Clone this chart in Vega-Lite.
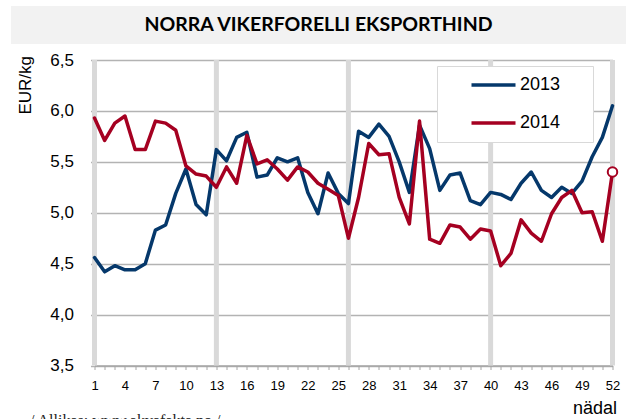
{
  "$schema": "https://vega.github.io/schema/vega-lite/v6.json",
  "padding": {"left": 11, "top": 6, "right": 0, "bottom": 0},
  "background": "white",
  "spacing": 7,
  "config": {"view": {"stroke": null}, "font": "Liberation Sans"},
  "title": {"text": "/ Allikas: www.akvafakta.no /", "orient": "bottom", "anchor": "start", "frame": "bounds", "font": "Liberation Serif", "fontSize": 16, "fontWeight": "normal", "color": "#222222", "offset": -5, "dx": 19, "baseline": "top"},
  "datasets": {
    "heading": [{"t": "NORRA VIKERFORELLI EKSPORTHIND"}],
    "quarters": [{"week": 1}, {"week": 13}, {"week": 26}, {"week": 40}, {"week": 52}],
    "prices": [
      {"week": 1, "year": "2013", "value": 4.56}, {"week": 2, "year": "2013", "value": 4.42}, {"week": 3, "year": "2013", "value": 4.48}, {"week": 4, "year": "2013", "value": 4.44}, {"week": 5, "year": "2013", "value": 4.44}, {"week": 6, "year": "2013", "value": 4.50}, {"week": 7, "year": "2013", "value": 4.83}, {"week": 8, "year": "2013", "value": 4.88}, {"week": 9, "year": "2013", "value": 5.19}, {"week": 10, "year": "2013", "value": 5.43},
      {"week": 11, "year": "2013", "value": 5.08}, {"week": 12, "year": "2013", "value": 4.98}, {"week": 13, "year": "2013", "value": 5.62}, {"week": 14, "year": "2013", "value": 5.51}, {"week": 15, "year": "2013", "value": 5.74}, {"week": 16, "year": "2013", "value": 5.79}, {"week": 17, "year": "2013", "value": 5.35}, {"week": 18, "year": "2013", "value": 5.37}, {"week": 19, "year": "2013", "value": 5.54}, {"week": 20, "year": "2013", "value": 5.50},
      {"week": 21, "year": "2013", "value": 5.54}, {"week": 22, "year": "2013", "value": 5.20}, {"week": 23, "year": "2013", "value": 4.99}, {"week": 24, "year": "2013", "value": 5.39}, {"week": 25, "year": "2013", "value": 5.19}, {"week": 26, "year": "2013", "value": 5.09}, {"week": 27, "year": "2013", "value": 5.80}, {"week": 28, "year": "2013", "value": 5.74}, {"week": 29, "year": "2013", "value": 5.87}, {"week": 30, "year": "2013", "value": 5.75},
      {"week": 31, "year": "2013", "value": 5.50}, {"week": 32, "year": "2013", "value": 5.20}, {"week": 33, "year": "2013", "value": 5.86}, {"week": 34, "year": "2013", "value": 5.63}, {"week": 35, "year": "2013", "value": 5.22}, {"week": 36, "year": "2013", "value": 5.37}, {"week": 37, "year": "2013", "value": 5.39}, {"week": 38, "year": "2013", "value": 5.12}, {"week": 39, "year": "2013", "value": 5.08}, {"week": 40, "year": "2013", "value": 5.20},
      {"week": 41, "year": "2013", "value": 5.18}, {"week": 42, "year": "2013", "value": 5.13}, {"week": 43, "year": "2013", "value": 5.29}, {"week": 44, "year": "2013", "value": 5.40}, {"week": 45, "year": "2013", "value": 5.22}, {"week": 46, "year": "2013", "value": 5.15}, {"week": 47, "year": "2013", "value": 5.25}, {"week": 48, "year": "2013", "value": 5.19}, {"week": 49, "year": "2013", "value": 5.31}, {"week": 50, "year": "2013", "value": 5.55},
      {"week": 51, "year": "2013", "value": 5.74}, {"week": 52, "year": "2013", "value": 6.05},
      {"week": 1, "year": "2014", "value": 5.93}, {"week": 2, "year": "2014", "value": 5.71}, {"week": 3, "year": "2014", "value": 5.88}, {"week": 4, "year": "2014", "value": 5.95}, {"week": 5, "year": "2014", "value": 5.62}, {"week": 6, "year": "2014", "value": 5.62}, {"week": 7, "year": "2014", "value": 5.90}, {"week": 8, "year": "2014", "value": 5.88}, {"week": 9, "year": "2014", "value": 5.81}, {"week": 10, "year": "2014", "value": 5.46},
      {"week": 11, "year": "2014", "value": 5.38}, {"week": 12, "year": "2014", "value": 5.36}, {"week": 13, "year": "2014", "value": 5.25}, {"week": 14, "year": "2014", "value": 5.45}, {"week": 15, "year": "2014", "value": 5.29}, {"week": 16, "year": "2014", "value": 5.76}, {"week": 17, "year": "2014", "value": 5.48}, {"week": 18, "year": "2014", "value": 5.52}, {"week": 19, "year": "2014", "value": 5.43}, {"week": 20, "year": "2014", "value": 5.32},
      {"week": 21, "year": "2014", "value": 5.45}, {"week": 22, "year": "2014", "value": 5.40}, {"week": 23, "year": "2014", "value": 5.29}, {"week": 24, "year": "2014", "value": 5.23}, {"week": 25, "year": "2014", "value": 5.17}, {"week": 26, "year": "2014", "value": 4.75}, {"week": 27, "year": "2014", "value": 5.15}, {"week": 28, "year": "2014", "value": 5.68}, {"week": 29, "year": "2014", "value": 5.57}, {"week": 30, "year": "2014", "value": 5.58},
      {"week": 31, "year": "2014", "value": 5.15}, {"week": 32, "year": "2014", "value": 4.89}, {"week": 33, "year": "2014", "value": 5.90}, {"week": 34, "year": "2014", "value": 4.74}, {"week": 35, "year": "2014", "value": 4.70}, {"week": 36, "year": "2014", "value": 4.88}, {"week": 37, "year": "2014", "value": 4.86}, {"week": 38, "year": "2014", "value": 4.74}, {"week": 39, "year": "2014", "value": 4.84}, {"week": 40, "year": "2014", "value": 4.82},
      {"week": 41, "year": "2014", "value": 4.48}, {"week": 42, "year": "2014", "value": 4.60}, {"week": 43, "year": "2014", "value": 4.93}, {"week": 44, "year": "2014", "value": 4.80}, {"week": 45, "year": "2014", "value": 4.72}, {"week": 46, "year": "2014", "value": 4.99}, {"week": 47, "year": "2014", "value": 5.15}, {"week": 48, "year": "2014", "value": 5.22}, {"week": 49, "year": "2014", "value": 5.00}, {"week": 50, "year": "2014", "value": 5.01},
      {"week": 51, "year": "2014", "value": 4.72}, {"week": 52, "year": "2014", "value": 5.40}
    ]
  },
  "vconcat": [
    {
      "width": 615,
      "height": 38,
      "view": {"fill": "#f2f2f2", "stroke": null},
      "data": {"name": "heading"},
      "mark": {"type": "text", "font": "Lato", "fontWeight": "bold", "fontSize": 19.5, "color": "#000000", "baseline": "middle", "align": "center"},
      "encoding": {"text": {"field": "t"}}
    },
    {
      "spacing": 4.5,
      "hconcat": [
        {
          "width": 1,
          "height": 1,
          "view": {"stroke": null},
          "data": {"values": []},
          "mark": {"type": "point", "opacity": 0}
        },
        {
          "width": 518,
          "height": 305.5,
          "encoding": {
            "x": {"field": "week", "type": "quantitative", "scale": {"domain": [1, 52], "nice": false, "zero": false},
              "axis": {"values": [1,2,3,4,5,6,7,8,9,10,11,12,13,14,15,16,17,18,19,20,21,22,23,24,25,26,27,28,29,30,31,32,33,34,35,36,37,38,39,40,41,42,43,44,45,46,47,48,49,50,51,52],
                "labelExpr": "(datum.value - 1) % 3 == 0 ? datum.value : ''", "labelOverlap": false, "labelFlush": false, "labelBound": false,
                "grid": false, "domainColor": "#a6a6a6", "domainWidth": 1.5, "tickColor": "#a6a6a6", "tickSize": 4, "tickWidth": 1,
                "labelFont": "Liberation Sans", "labelFontSize": 13, "labelColor": "#000000", "labelPadding": 10,
                "title": "nädal", "titleFont": "Liberation Sans", "titleFontSize": 18, "titleFontWeight": "normal", "titleColor": "#000000",
                "titleX": 522, "titleY": 43, "titleAlign": "right", "titleBaseline": "middle"}}
          },
          "layer": [
            {
              "data": {"name": "quarters"},
              "mark": {"type": "rule", "color": "#d9d9d9", "strokeWidth": 5},
              "encoding": {"x": {"field": "week", "type": "quantitative"}}
            },
            {
              "data": {"name": "prices"},
              "mark": {"type": "line", "strokeWidth": 3.5, "strokeJoin": "round", "strokeCap": "round"},
              "encoding": {
                "y": {"field": "value", "type": "quantitative", "scale": {"domain": [3.5, 6.5], "nice": false, "zero": false},
                  "axis": {"values": [3.5, 4, 4.5, 5, 5.5, 6, 6.5], "labelExpr": "replace(format(datum.value, '.1f'), '.', ',')",
                    "grid": true, "gridColor": "#b3b3b3", "gridWidth": 1.5, "domain": false, "ticks": true, "tickColor": "#b3b3b3", "tickSize": 4, "tickWidth": 1.5,
                    "labelFont": "Liberation Sans", "labelFontSize": 17, "labelColor": "#000000", "labelPadding": 17,
                    "title": "EUR/kg", "titleFont": "Liberation Sans", "titleFontSize": 17, "titleFontWeight": "normal", "titleColor": "#000000",
                    "titleX": -69, "titleY": -4.5, "titleAngle": -90, "titleAlign": "right", "titleBaseline": "middle"}},
                "color": {"field": "year", "type": "nominal", "scale": {"domain": ["2013", "2014"], "range": ["#05386b", "#a50021"]},
                  "legend": {"orient": "none", "legendX": 426, "legendY": 60, "direction": "vertical",
                    "title": "xx", "titleOpacity": 0, "titleOrient": "right", "titleFontSize": 10, "titlePadding": 11,
                    "symbolType": "M-4,0H4", "symbolSize": 121, "symbolStrokeWidth": 3.5, "symbolOffset": 37.5,
                    "labelFont": "Liberation Sans", "labelFontSize": 18, "labelColor": "#000000", "labelOffset": 17.5,
                    "padding": 10, "rowPadding": 20, "strokeColor": "#d9d9d9", "fillColor": "#ffffff"}}
              }
            },
            {
              "data": {"name": "prices"},
              "transform": [{"filter": "datum.week == 52 && datum.year == '2014'"}],
              "mark": {"type": "point", "filled": true, "fill": "#ffffff", "stroke": "#a50021", "strokeWidth": 2, "size": 90, "opacity": 1},
              "encoding": {"y": {"field": "value", "type": "quantitative"}}
            }
          ]
        }
      ]
    }
  ]
}
